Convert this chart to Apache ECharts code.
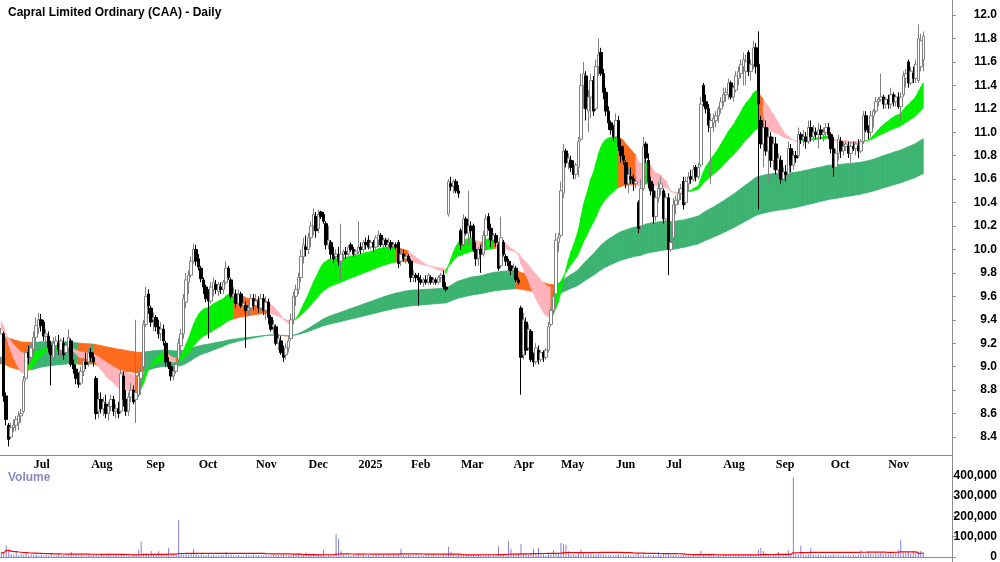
<!DOCTYPE html>
<html>
<head>
<meta charset="utf-8">
<title>Capral Limited Ordinary (CAA) - Daily</title>
<script src="https://cdn.jsdelivr.net/npm/echarts@6/dist/echarts.min.js"></script>
<style>
    html, body { margin: 0; padding: 0; background: #fff; }
    #chart { width: 1000px; height: 562px; }
</style>
</head>
<body>
<div id="chart"></div>
<script>
// daily bars, 12 Jun 2024 .. 21 Nov 2025 (one row per month)
var opens = [
    9.08, 9.28, 8.75, 8.50, 8.40, 8.48, 8.50, 8.52, 8.58, 8.62, 8.90, 9.12, 9.08,
    9.15, 9.25, 9.33, 9.40, 9.38, 9.26, 9.26, 9.18, 9.08, 9.18, 9.20, 9.14, 9.20, 9.12, 9.16, 9.22, 9.02, 8.98, 8.90, 8.86, 8.96, 9.04, 9.04,
    9.12, 9.08, 8.90, 8.62, 8.72, 8.64, 8.68, 8.60, 8.66, 8.72, 8.62, 8.64, 8.62, 8.92, 8.72, 8.62, 8.74, 8.80, 8.72, 8.76, 8.90, 9.00,
    9.36, 9.62, 9.50, 9.40, 9.42, 9.34, 9.28, 9.32, 9.20, 9.04, 9.00, 8.92, 8.96, 9.06, 9.18, 9.28, 9.55, 9.72, 9.78, 9.90, 10.00,
    9.92, 9.84, 9.74, 9.68, 9.60, 9.56, 9.66, 9.70, 9.64, 9.68, 9.66, 9.72, 9.84, 9.74, 9.60, 9.62, 9.54, 9.62, 9.52, 9.52, 9.48, 9.50, 9.58,
    9.52, 9.56, 9.50, 9.58, 9.48, 9.55, 9.42, 9.34, 9.34, 9.20, 9.22, 9.12, 9.10, 9.16, 9.24, 9.40, 9.60, 9.66, 9.76, 9.94, 10.02,
    10.00, 10.10, 10.20, 10.28, 10.18, 10.32, 10.30, 10.22, 10.04, 10.06, 9.96, 9.94, 9.96, 9.90, 9.96, 9.98, 9.96, 10.04, 10.00, 9.96,
    9.98, 10.02, 10.00, 10.06, 10.08, 10.02, 10.06, 10.02, 10.08, 10.12, 10.04, 10.08, 10.04, 10.06, 10.02, 10.04, 10.06, 9.90, 9.96, 9.92, 9.94,
    9.90, 9.76, 9.78, 9.76, 9.74, 9.72, 9.74, 9.72, 9.76, 9.72, 9.74, 9.72, 9.76, 9.78, 9.68, 10.30, 10.56, 10.54, 10.58, 10.50,
    10.16, 10.04, 10.26, 10.14, 10.20, 10.20, 10.00, 9.92, 10.00, 9.96, 10.12, 10.28, 10.18, 10.08, 10.12, 10.04, 9.86, 10.06, 9.94, 9.90, 9.86,
    9.82, 9.84, 9.74, 9.50, 9.10, 9.38, 9.16, 9.30, 9.06, 9.04, 9.14, 9.06, 9.12, 9.08, 9.14, 9.36, 9.48, 9.62, 10.06,
    10.12, 10.48, 10.84, 10.74, 10.76, 10.70, 10.64, 10.70, 10.94, 11.40, 11.48, 11.18, 11.30, 11.44, 11.20, 11.56, 11.68, 11.50, 11.34, 11.18, 11.08, 11.02,
    10.96, 11.10, 10.88, 10.80, 10.74, 10.56, 10.62, 10.60, 10.56, 10.40, 10.20, 10.52, 10.90, 10.76, 10.58, 10.50, 10.28, 10.44, 10.52, 10.50,
    10.26, 10.44, 10.00, 10.10, 10.38, 10.42, 10.48, 10.58, 10.40, 10.56, 10.62, 10.60, 10.70, 10.62, 10.72, 11.40, 11.26, 11.20, 11.04, 11.08, 11.10, 11.14, 11.20,
    11.26, 11.32, 11.32, 11.42, 11.30, 11.36, 11.46, 11.50, 11.56, 11.52, 11.68, 11.52, 11.58, 11.72, 11.58, 11.10, 10.90, 11.04, 10.84, 10.96, 10.76,
    10.90, 10.68, 10.76, 10.60, 10.66, 10.64, 10.86, 10.72, 10.80, 10.80, 10.98, 10.94, 10.96, 10.92, 11.04, 10.96, 11.00, 10.98, 11.02, 10.98, 11.00, 11.04,
    10.98, 10.86, 10.70, 10.82, 10.92, 10.84, 10.88, 10.88, 10.82, 10.88, 10.86, 10.88, 10.84, 10.92, 11.14, 11.02, 11.00, 11.14, 11.18, 11.26, 11.28, 11.30, 11.24,
    11.28, 11.24, 11.32, 11.26, 11.30, 11.22, 11.32, 11.46, 11.60, 11.42, 11.50, 11.46, 11.44, 11.56, 11.62
];
var highs = [
    9.33, 9.30, 8.78, 8.52, 8.52, 8.55, 8.58, 8.62, 8.64, 8.92, 9.18, 9.18, 9.20,
    9.30, 9.42, 9.46, 9.45, 9.40, 9.32, 9.30, 9.22, 9.25, 9.26, 9.27, 9.24, 9.25, 9.22, 9.32, 9.24, 9.06, 9.02, 8.95, 9.00, 9.08, 9.12, 9.16,
    9.16, 9.12, 8.92, 8.78, 8.78, 8.74, 8.76, 8.70, 8.76, 8.75, 8.68, 8.70, 8.98, 8.96, 8.80, 8.78, 8.86, 8.84, 9.40, 8.96, 9.00, 9.40,
    9.68, 9.66, 9.52, 9.46, 9.44, 9.40, 9.38, 9.36, 9.22, 9.08, 9.04, 9.00, 9.04, 9.24, 9.32, 9.62, 9.80, 9.82, 9.94, 10.05, 10.04,
    9.96, 9.86, 9.76, 9.70, 9.66, 9.72, 9.76, 9.74, 9.72, 9.72, 9.74, 9.90, 9.86, 9.76, 9.68, 9.66, 9.66, 9.64, 9.58, 9.56, 9.54, 9.62, 9.62,
    9.62, 9.60, 9.62, 9.62, 9.60, 9.58, 9.44, 9.40, 9.36, 9.28, 9.26, 9.18, 9.20, 9.26, 9.45, 9.64, 9.70, 9.80, 10.00, 10.10, 10.12,
    10.14, 10.24, 10.35, 10.32, 10.34, 10.33, 10.32, 10.24, 10.20, 10.08, 10.02, 10.00, 10.02, 10.22, 10.00, 10.02, 10.04, 10.06, 10.02, 10.00,
    10.24, 10.06, 10.08, 10.10, 10.12, 10.08, 10.08, 10.12, 10.16, 10.14, 10.10, 10.10, 10.10, 10.08, 10.06, 10.06, 10.08, 10.00, 10.00, 9.98, 9.96,
    9.92, 9.82, 9.80, 9.80, 9.78, 9.76, 9.78, 9.80, 9.78, 9.76, 9.76, 9.78, 9.80, 9.82, 9.72, 10.60, 10.62, 10.60, 10.60, 10.55,
    10.18, 10.30, 10.28, 10.50, 10.24, 10.22, 10.06, 10.02, 10.04, 10.16, 10.30, 10.31, 10.22, 10.14, 10.14, 10.06, 10.28, 10.08, 9.96, 9.92, 9.90,
    9.88, 9.86, 9.76, 9.52, 9.46, 9.42, 9.36, 9.32, 9.12, 9.20, 9.18, 9.14, 9.14, 9.16, 9.38, 9.50, 9.64, 10.14, 10.14,
    10.58, 10.90, 10.86, 10.82, 10.80, 10.76, 10.74, 10.96, 11.50, 11.60, 11.52, 11.36, 11.50, 11.48, 11.62, 11.80, 11.72, 11.54, 11.38, 11.22, 11.10, 11.06,
    11.16, 11.14, 10.94, 10.88, 10.76, 10.70, 10.70, 10.64, 10.62, 10.42, 10.60, 10.96, 10.92, 10.82, 10.62, 10.56, 10.50, 10.58, 10.62, 10.52,
    10.48, 10.48, 10.08, 10.44, 10.46, 10.52, 10.56, 10.62, 10.62, 10.66, 10.68, 10.72, 10.72, 10.74, 11.30, 11.42, 11.32, 11.24, 11.16, 11.16, 11.18, 11.22, 11.30,
    11.38, 11.38, 11.46, 11.44, 11.40, 11.52, 11.56, 11.62, 11.68, 11.66, 11.70, 11.62, 11.78, 11.76, 11.86, 11.14, 11.12, 11.10, 11.04, 11.00, 10.96,
    10.96, 10.82, 10.80, 10.70, 10.72, 10.92, 10.90, 10.84, 10.84, 11.04, 11.00, 11.02, 11.00, 11.10, 11.10, 11.06, 11.04, 11.08, 11.06, 11.04, 11.08, 11.08,
    11.00, 10.96, 10.86, 10.98, 10.96, 10.92, 10.92, 10.92, 10.92, 10.92, 10.92, 10.94, 10.94, 11.18, 11.18, 11.06, 11.18, 11.20, 11.30, 11.30, 11.50, 11.32, 11.30,
    11.32, 11.38, 11.34, 11.32, 11.34, 11.34, 11.52, 11.54, 11.62, 11.56, 11.56, 11.62, 11.92, 11.84, 11.86
];
var lows = [
    9.02, 8.70, 8.50, 8.32, 8.38, 8.44, 8.45, 8.46, 8.52, 8.60, 8.88, 9.02, 9.04,
    9.10, 9.20, 9.28, 9.30, 9.22, 9.18, 9.12, 8.84, 9.05, 9.08, 9.10, 9.08, 9.06, 9.05, 9.12, 9.00, 8.94, 8.85, 8.82, 8.84, 8.92, 8.98, 9.00,
    9.04, 9.00, 8.55, 8.56, 8.60, 8.58, 8.56, 8.54, 8.62, 8.58, 8.56, 8.56, 8.60, 8.66, 8.58, 8.58, 8.70, 8.68, 8.52, 8.74, 8.76, 8.98,
    9.34, 9.45, 9.34, 9.30, 9.30, 9.24, 9.22, 9.18, 9.00, 8.98, 8.88, 8.88, 8.94, 9.04, 9.12, 9.24, 9.50, 9.62, 9.76, 9.88, 9.86,
    9.82, 9.72, 9.62, 9.55, 9.24, 9.54, 9.60, 9.62, 9.60, 9.62, 9.62, 9.70, 9.74, 9.58, 9.54, 9.50, 9.52, 9.50, 9.46, 9.16, 9.44, 9.46, 9.48,
    9.48, 9.46, 9.48, 9.44, 9.40, 9.36, 9.30, 9.28, 9.18, 9.14, 9.10, 9.04, 9.06, 9.12, 9.22, 9.36, 9.52, 9.62, 9.72, 9.88, 9.94,
    9.96, 10.02, 10.12, 10.10, 10.14, 10.26, 10.22, 10.00, 10.00, 9.92, 9.88, 9.84, 9.86, 9.74, 9.90, 9.92, 9.94, 9.98, 9.94, 9.92,
    9.96, 9.96, 9.98, 10.00, 10.00, 10.00, 9.98, 10.00, 10.02, 10.02, 10.00, 10.02, 10.00, 10.00, 9.98, 10.00, 9.84, 9.86, 9.90, 9.88, 9.88,
    9.72, 9.72, 9.72, 9.52, 9.70, 9.68, 9.70, 9.70, 9.70, 9.70, 9.70, 9.70, 9.72, 9.66, 9.64, 10.28, 10.50, 10.48, 10.48, 10.44,
    10.00, 10.02, 10.12, 10.04, 10.10, 9.98, 9.86, 9.86, 9.80, 9.94, 10.02, 10.16, 10.02, 10.04, 10.02, 9.82, 9.84, 9.94, 9.86, 9.82, 9.78,
    9.76, 9.72, 9.70, 8.76, 9.06, 9.10, 9.14, 9.04, 9.00, 9.02, 9.02, 9.04, 9.04, 9.06, 9.12, 9.34, 9.46, 9.60, 9.98,
    10.10, 10.44, 10.70, 10.68, 10.66, 10.60, 10.60, 10.62, 10.92, 11.20, 11.10, 11.00, 11.12, 11.14, 11.18, 11.48, 11.48, 11.28, 11.14, 11.02, 10.98, 10.92,
    10.90, 10.84, 10.74, 10.72, 10.52, 10.48, 10.56, 10.50, 10.52, 10.14, 10.16, 10.50, 10.74, 10.52, 10.46, 10.22, 10.24, 10.40, 10.46, 10.22,
    10.22, 9.78, 9.98, 10.08, 10.30, 10.38, 10.42, 10.34, 10.38, 10.50, 10.56, 10.58, 10.58, 10.60, 10.70, 11.22, 11.16, 11.00, 10.56, 11.00, 11.04, 11.08, 11.16,
    11.22, 11.26, 11.28, 11.28, 11.26, 11.34, 11.40, 11.46, 11.40, 11.40, 11.48, 11.44, 11.54, 11.50, 10.34, 10.86, 10.70, 10.80, 10.58, 10.70, 10.68,
    10.64, 10.62, 10.56, 10.54, 10.58, 10.62, 10.66, 10.68, 10.74, 10.78, 10.90, 10.88, 10.86, 10.90, 10.92, 10.92, 10.94, 10.86, 10.94, 10.92, 10.94, 10.94,
    10.82, 10.62, 10.66, 10.76, 10.78, 10.80, 10.84, 10.78, 10.74, 10.84, 10.80, 10.78, 10.82, 10.90, 11.00, 10.94, 10.96, 11.04, 11.16, 11.22, 11.26, 11.20, 11.20,
    11.20, 11.20, 11.22, 11.22, 11.20, 11.10, 11.30, 11.38, 11.38, 11.40, 11.42, 11.42, 11.42, 11.52, 11.52
];
var closes = [
    9.28, 8.75, 8.55, 8.38, 8.48, 8.50, 8.55, 8.58, 8.60, 8.88, 9.12, 9.08, 9.16,
    9.25, 9.35, 9.40, 9.35, 9.26, 9.28, 9.16, 9.10, 9.20, 9.22, 9.14, 9.22, 9.10, 9.18, 9.25, 9.02, 8.98, 8.90, 8.85, 8.96, 9.05, 9.02, 9.12,
    9.08, 9.04, 8.60, 8.72, 8.64, 8.70, 8.60, 8.66, 8.72, 8.62, 8.64, 8.60, 8.94, 8.72, 8.62, 8.74, 8.80, 8.70, 8.78, 8.92, 8.96, 9.36,
    9.60, 9.52, 9.38, 9.42, 9.34, 9.28, 9.32, 9.22, 9.04, 9.00, 8.92, 8.96, 9.02, 9.20, 9.28, 9.58, 9.74, 9.78, 9.90, 10.00, 9.90,
    9.85, 9.75, 9.68, 9.58, 9.56, 9.68, 9.72, 9.66, 9.70, 9.66, 9.72, 9.84, 9.76, 9.60, 9.62, 9.54, 9.62, 9.52, 9.54, 9.48, 9.50, 9.58, 9.52,
    9.56, 9.50, 9.58, 9.48, 9.55, 9.42, 9.32, 9.36, 9.20, 9.24, 9.12, 9.08, 9.16, 9.22, 9.40, 9.60, 9.66, 9.76, 9.94, 10.04, 10.00,
    10.10, 10.20, 10.30, 10.16, 10.30, 10.28, 10.24, 10.04, 10.08, 9.96, 9.92, 9.96, 9.90, 9.96, 9.98, 9.96, 10.02, 10.00, 9.96, 9.98,
    10.02, 10.00, 10.06, 10.04, 10.02, 10.06, 10.02, 10.10, 10.12, 10.04, 10.08, 10.04, 10.06, 10.02, 10.04, 10.02, 9.88, 9.96, 9.92, 9.94, 9.90,
    9.76, 9.78, 9.76, 9.74, 9.72, 9.74, 9.72, 9.78, 9.72, 9.74, 9.72, 9.76, 9.78, 9.68, 9.66, 10.58, 10.54, 10.58, 10.50, 10.48,
    10.04, 10.26, 10.14, 10.20, 10.16, 10.00, 9.92, 10.00, 9.96, 10.12, 10.26, 10.18, 10.08, 10.12, 10.06, 9.84, 10.10, 9.96, 9.90, 9.86, 9.82,
    9.84, 9.74, 9.72, 9.08, 9.40, 9.14, 9.32, 9.06, 9.04, 9.16, 9.06, 9.12, 9.08, 9.14, 9.34, 9.48, 9.60, 10.08, 10.10,
    10.50, 10.84, 10.74, 10.78, 10.70, 10.64, 10.72, 10.92, 11.40, 11.50, 11.20, 11.30, 11.44, 11.18, 11.56, 11.66, 11.50, 11.34, 11.18, 11.08, 11.02, 10.96,
    11.10, 10.88, 10.80, 10.76, 10.56, 10.64, 10.60, 10.56, 10.58, 10.18, 10.52, 10.88, 10.78, 10.58, 10.50, 10.28, 10.44, 10.52, 10.56, 10.26,
    10.44, 10.00, 10.06, 10.38, 10.42, 10.48, 10.52, 10.38, 10.58, 10.62, 10.60, 10.68, 10.62, 10.70, 11.24, 11.26, 11.20, 11.06, 11.10, 11.12, 11.14, 11.20, 11.26,
    11.32, 11.34, 11.42, 11.30, 11.38, 11.48, 11.52, 11.58, 11.62, 11.60, 11.52, 11.58, 11.72, 11.56, 11.24, 10.90, 11.04, 10.84, 10.96, 10.76, 10.90,
    10.68, 10.78, 10.60, 10.66, 10.64, 10.86, 10.72, 10.80, 10.78, 10.98, 10.94, 10.96, 10.92, 11.04, 10.96, 11.00, 10.98, 11.02, 10.98, 11.00, 11.04, 10.98,
    10.86, 10.70, 10.82, 10.94, 10.84, 10.88, 10.90, 10.82, 10.88, 10.86, 10.90, 10.84, 10.92, 11.14, 11.02, 11.00, 11.14, 11.18, 11.26, 11.28, 11.30, 11.24, 11.28,
    11.24, 11.32, 11.26, 11.30, 11.22, 11.30, 11.48, 11.50, 11.42, 11.52, 11.46, 11.58, 11.80, 11.78, 11.82
];
var volumes = [
    22000, 18000, 58000, 33000, 15000, 12000, 30000, 9000, 14000, 11000, 16000, 8000, 12000,
    10000, 14000, 8000, 12000, 9000, 11000, 7000, 13000, 6000, 9000, 12000, 8000, 10000, 7000, 11000, 25000, 9000, 12000, 8000, 10000, 6000, 9000, 11000,
    9000, 12000, 16000, 8000, 10000, 7000, 9000, 12000, 6000, 8000, 10000, 7000, 14000, 9000, 11000, 8000, 6000, 10000, 12000, 36000, 77000, 18000,
    20000, 14000, 30000, 12000, 9000, 28000, 11000, 8000, 13000, 44000, 10000, 12000, 9000, 181000, 15000, 11000, 14000, 12000, 16000, 41000, 13000,
    10000, 12000, 8000, 9000, 14000, 7000, 10000, 8000, 6000, 11000, 9000, 25000, 8000, 12000, 7000, 9000, 10000, 6000, 8000, 13000, 7000, 9000, 11000,
    8000, 10000, 7000, 9000, 12000, 6000, 8000, 11000, 9000, 7000, 10000, 13000, 8000, 9000, 12000, 15000, 11000, 20000, 14000, 12000, 22000,
    13000, 11000, 16000, 9000, 12000, 10000, 36000, 8000, 11000, 9000, 7000, 112000, 90000, 30000, 10000, 6000, 8000, 5000, 9000, 7000,
    9000, 7000, 10000, 8000, 12000, 6000, 9000, 11000, 7000, 8000, 10000, 6000, 9000, 7000, 12000, 8000, 10000, 41000, 9000, 7000, 11000,
    10000, 8000, 12000, 7000, 9000, 6000, 10000, 8000, 7000, 11000, 9000, 6000, 8000, 12000, 10000, 51000, 25000, 14000, 9000, 11000,
    12000, 9000, 14000, 8000, 10000, 11000, 7000, 9000, 12000, 8000, 10000, 13000, 7000, 9000, 11000, 53000, 12000, 10000, 14000, 79000, 41000,
    14000, 12000, 18000, 63000, 20000, 15000, 12000, 17000, 41000, 14000, 46000, 11000, 13000, 9000, 16000, 12000, 33000, 20000, 18000,
    69000, 63000, 61000, 28000, 15000, 12000, 10000, 18000, 38000, 16000, 14000, 12000, 15000, 11000, 13000, 18000, 14000, 12000, 10000, 9000, 11000, 8000,
    10000, 12000, 9000, 11000, 8000, 10000, 7000, 9000, 12000, 15000, 11000, 13000, 8000, 10000, 9000, 12000, 8000, 25000, 10000, 14000,
    12000, 18000, 10000, 9000, 11000, 8000, 7000, 10000, 9000, 6000, 8000, 10000, 7000, 9000, 30000, 14000, 11000, 9000, 12000, 8000, 7000, 10000, 9000,
    8000, 10000, 7000, 9000, 6000, 11000, 8000, 9000, 7000, 10000, 8000, 12000, 9000, 14000, 36000, 44000, 30000, 18000, 15000, 12000, 14000,
    16000, 25000, 14000, 12000, 18000, 33000, 15000, 392000, 20000, 14000, 56000, 12000, 10000, 15000, 43000, 11000, 9000, 13000, 10000, 8000, 12000, 9000,
    10000, 14000, 9000, 12000, 8000, 11000, 7000, 10000, 9000, 13000, 8000, 11000, 33000, 12000, 14000, 30000, 16000, 12000, 18000, 15000, 20000, 13000, 17000,
    15000, 18000, 14000, 20000, 36000, 82000, 22000, 18000, 25000, 16000, 30000, 22000, 28000, 30000, 24000
];

// moving-average periods and their state carried in from before the first bar
var shortFast = 22, shortSlow = 55, longFast = 130, longSlow = 230;
var emaSeed = { shortFast: 9.40, shortSlow: 9.32, longFast: 9.02, longSlow: 9.26 };
var holidays = ['2024-12-25', '2024-12-26', '2025-01-01', '2025-01-27', '2025-04-18', '2025-04-21', '2025-04-25', '2025-06-09'];
var monthNames = ['Jan', 'Feb', 'Mar', 'Apr', 'May', 'Jun', 'Jul', 'Aug', 'Sep', 'Oct', 'Nov', 'Dec'];
var firstDay = Date.UTC(2024, 5, 12);
var blankBars = 11;

var N = closes.length;

// trading dates
var dates = [];
var d = new Date(firstDay);
while (dates.length < N + blankBars) {
    var wd = d.getUTCDay();
    var key = d.toISOString().slice(0, 10);
    if (wd !== 0 && wd !== 6 && holidays.indexOf(key) < 0) dates.push(key);
    d.setUTCDate(d.getUTCDate() + 1);
}

function isMonthStart(i) {
    return i > 0 && i < N && dates[i].slice(0, 7) !== dates[i - 1].slice(0, 7);
}

function ema(src, period, seed) {
    var k = 2 / (period + 1), prev = seed, out = [];
    for (var i = 0; i < src.length; i++) {
        prev = prev + k * (src[i] - prev);
        out.push(+prev.toFixed(4));
    }
    return out;
}

function sma(src, period) {
    var out = [], sum = 0;
    for (var i = 0; i < src.length; i++) {
        sum += src[i];
        if (i >= period) sum -= src[i - period];
        out.push(Math.round(sum / Math.min(i + 1, period)));
    }
    return out;
}

// is the line higher now than `lag` bars back
function rising(line, i, lag) {
    return line[i] > line[Math.max(0, i - lag)];
}

var sF = ema(closes, shortFast, emaSeed.shortFast);
var sS = ema(closes, shortSlow, emaSeed.shortSlow);
var lF = ema(closes, longFast, emaSeed.longFast);
var lS = ema(closes, longSlow, emaSeed.longSlow);

// short band: 0 lime (both rising), 1 orange (mixed), 2 pink (both falling)
var shortColors = ['#00f000', '#ff6a1c', '#ffb4bb'];
// long band: 0 green (rising), 1 orange (falling)
var longColors = ['#3cb371', '#ff6a1c'];

var shortSeg = [], longSeg = [];
for (var i = 0; i < N - 1; i++) {
    var upF = rising(sF, i + 1, 3), upS = rising(sS, i + 1, 3);
    var c = (upF && upS) ? 0 : (!upF && !upS ? 2 : 1);
    shortSeg.push([i, sF[i], sS[i], sF[i + 1], sS[i + 1], c]);
    longSeg.push([i, lF[i], lS[i], lF[i + 1], lS[i + 1], rising(lF, i + 1, 6) ? 0 : 1]);
}

var candles = [];
for (var j = 0; j < N; j++) candles.push([opens[j], closes[j], lows[j], highs[j]]);
var volAvg = sma(volumes, 50);

function bandItem(colors) {
    return function (params, api) {
        var i = api.value(0);
        var pts = [
            api.coord([i, api.value(1)]),
            api.coord([i + 1, api.value(3)]),
            api.coord([i + 1, api.value(4)]),
            api.coord([i, api.value(2)])
        ];
        var col = colors[api.value(5)];
        return {
            type: 'polygon',
            shape: { points: pts },
            style: { fill: col, stroke: col, lineWidth: 0.8 }
        };
    };
}

var labelFont = { color: '#000', fontWeight: 'bold', fontSize: 12, fontFamily: 'Liberation Sans' };

var option = {
    animation: false,
    backgroundColor: '#fff',
    title: {
        text: 'Capral Limited Ordinary (CAA) - Daily',
        left: 3, top: 2,
        textStyle: { color: '#000', fontWeight: 'bold', fontSize: 12, fontFamily: 'Liberation Sans' }
    },
    graphic: [
        { type: 'line', shape: { x1: 952.5, y1: 0, x2: 952.5, y2: 562 }, style: { stroke: '#8c8c8c', lineWidth: 1 }, z: 10 },
        { type: 'text', left: 8, top: 472, style: { text: 'Volume', fill: '#8a8ac8', font: 'bold 12px "Liberation Sans"' } }
    ],
    grid: [
        { left: 0, right: 48, top: -8.44, height: 468.88, outerBoundsMode: 'none', containLabel: false },
        { left: 0, right: 48, top: 469, bottom: 5, outerBoundsMode: 'none', containLabel: false }
    ],
    xAxis: [
        {
            type: 'category', data: dates, gridIndex: 0, boundaryGap: true, offset: -5,
            axisLine: { lineStyle: { color: '#8c8c8c' } },
            axisTick: { interval: function (i) { return isMonthStart(i); }, length: 5, lineStyle: { color: '#8c8c8c' } },
            axisLabel: {
                interval: function (i) { return isMonthStart(i); },
                formatter: function (v) {
                    var m = +v.slice(5, 7);
                    return m === 1 ? v.slice(0, 4) : monthNames[m - 1];
                },
                align: 'left', margin: 3,
                color: '#000', fontWeight: 'bold', fontSize: 12, fontFamily: 'Liberation Sans Narrow'
            },
            splitLine: { show: false }
        },
        {
            type: 'category', data: dates, gridIndex: 1, boundaryGap: true, position: 'top',
            axisLine: { lineStyle: { color: '#8c8c8c' } },
            axisTick: { show: false }, axisLabel: { show: false }, splitLine: { show: false }
        }
    ],
    yAxis: [
        {
            type: 'value', gridIndex: 0, position: 'right', min: 8.2, max: 12.2, interval: 0.2,
            axisLine: { show: true, lineStyle: { color: '#8c8c8c' } },
            axisTick: { show: true, length: 4, lineStyle: { color: '#8c8c8c' } },
            axisLabel: Object.assign({
                align: 'right', margin: 45, showMinLabel: false, showMaxLabel: false,
                formatter: function (v) { return v.toFixed(1); }
            }, labelFont),
            splitLine: { show: false }
        },
        {
            type: 'value', gridIndex: 1, position: 'right', min: 0, max: 434000, interval: 100000,
            axisLine: { show: true, lineStyle: { color: '#8c8c8c' } },
            axisTick: { show: true, length: 4, lineStyle: { color: '#8c8c8c' } },
            axisLabel: Object.assign({
                align: 'right', margin: 45, showMaxLabel: false,
                formatter: function (v) { return v.toLocaleString('en-US'); }
            }, labelFont),
            splitLine: { show: false }
        }
    ],
    series: [
        {
            name: 'long', type: 'custom', xAxisIndex: 0, yAxisIndex: 0, z: 1,
            renderItem: bandItem(longColors), encode: { x: 0, y: [1, 2, 3, 4] },
            data: longSeg, silent: true
        },
        {
            name: 'short', type: 'custom', xAxisIndex: 0, yAxisIndex: 0, z: 2,
            renderItem: bandItem(shortColors), encode: { x: 0, y: [1, 2, 3, 4] },
            data: shortSeg, silent: true
        },
        {
            name: 'price', type: 'candlestick', xAxisIndex: 0, yAxisIndex: 0, z: 3,
            barWidth: 3,
            itemStyle: { color: '#ffffff', color0: '#000000', borderColor: '#808080', borderColor0: '#000000', borderWidth: 1 },
            data: candles
        },
        {
            name: 'Volume', type: 'bar', xAxisIndex: 1, yAxisIndex: 1,
            barWidth: 1, itemStyle: { color: '#8080e0' },
            data: volumes
        },
        {
            name: 'Volume MA', type: 'line', xAxisIndex: 1, yAxisIndex: 1,
            showSymbol: false, lineStyle: { color: '#ff0000', width: 1.2 },
            data: volAvg
        }
    ]
};

var myChart = echarts.init(document.getElementById('chart'));
myChart.setOption(option);
</script>
</body>
</html>
